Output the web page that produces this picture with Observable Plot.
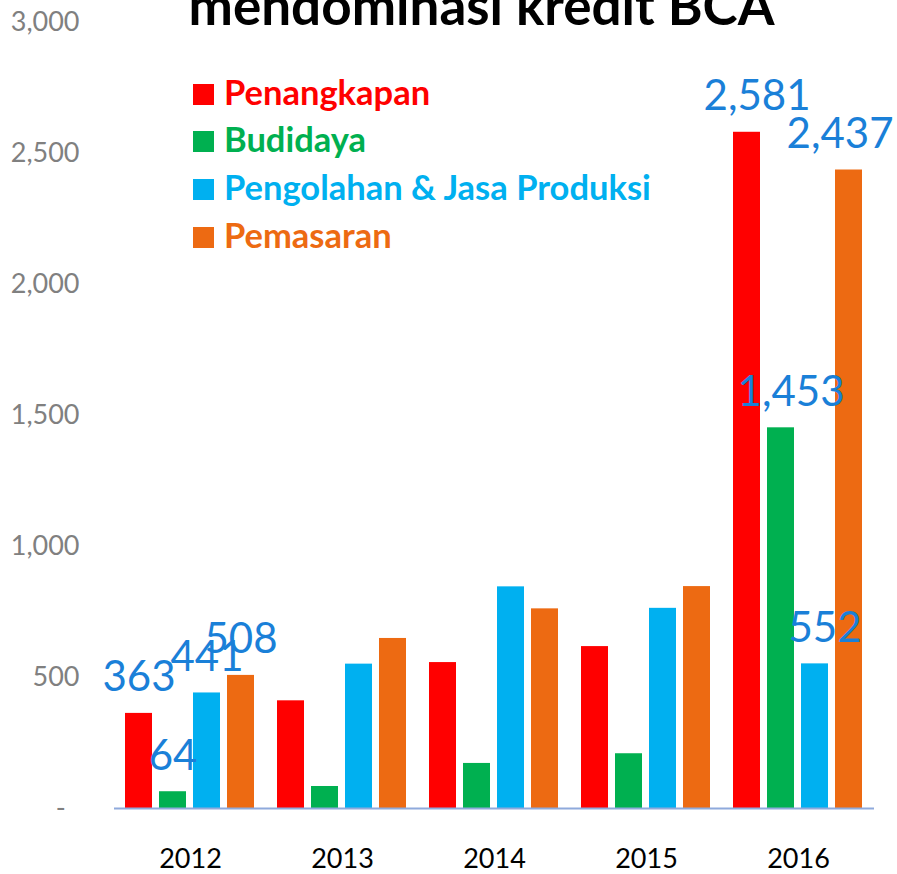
<!DOCTYPE html>
<html>
<head>
<meta charset="utf-8">
<script src="https://cdn.jsdelivr.net/npm/d3@7"></script>
<script src="https://cdn.jsdelivr.net/npm/@observablehq/plot@0.6"></script>
<style>
  html, body { margin: 0; padding: 0; background: #fff; overflow: hidden; }
  #wrap { position: relative; width: 897px; height: 874px; overflow: hidden; font-family: Lato, "Open Sans", sans-serif; }
  #title { position: absolute; left: 0; width: 897px; top: -22px; text-align: center; font-size: 53px; line-height: 53px; font-weight: 700; color: #000; white-space: nowrap; padding-left: 66px; box-sizing: border-box; }
  #legend { position: absolute; left: 193px; top: 0; }
  .row { position: absolute; left: 0; white-space: nowrap; font-size: 34.5px; font-weight: 700; line-height: 34.5px; }
  .sw { position: absolute; left: 0; width: 21px; height: 21px; }
  .lt { position: absolute; left: 31px; top: 0; }
  #chart { position: absolute; left: 0; top: 0; }
</style>
</head>
<body>
<div id="wrap">
  <div id="chart"></div>
  <div id="title">mendominasi kredit BCA</div>
  <div id="legend"></div>
</div>
<script>
const years = ["2012", "2013", "2014", "2015", "2016"];
const seriesNames = ["Penangkapan", "Budidaya", "Pengolahan & Jasa Produksi", "Pemasaran"];
const seriesColors = ["#FF0000", "#00B050", "#00B0F0", "#ED6A12"];
const penangkapan = [363, 411, 557, 618, 2581];
const budidaya = [64, 84, 172, 209, 1453];
const pengolahan = [441, 551, 846, 764, 552];
const pemasaran = [508, 649, 762, 847, 2437];
const labeledYears = ["2012", "2016"];
const yTicks = [0, 500, 1000, 1500, 2000, 2500, 3000];

const seriesValues = [penangkapan, budidaya, pengolahan, pemasaran];
const data = [];
years.forEach((yr, i) => {
  seriesNames.forEach((s, j) => {
    data.push({year: yr, series: s, value: seriesValues[j][i]});
  });
});

const fmt = d3.format(",");
const yFmt = d => d === 0 ? "-\u00a0\u00a0" : fmt(d);

const labelOpts = {
  fx: "year", x: "series", y: "value", text: d => fmt(d.value),
  lineAnchor: "bottom", dy: -22, fill: "#1A80D8", fontSize: 42
};
const lastYear = labeledYears[labeledYears.length - 1];
const lastSeries = seriesNames[seriesNames.length - 1];
const firstLabels = data.filter(d => d.year === labeledYears[0]);
const lastLabels = data.filter(d => d.year === lastYear && d.series !== lastSeries);
const edgeLabels = data.filter(d => d.year === lastYear && d.series === lastSeries);

const chart = Plot.plot({
  width: 897,
  height: 874,
  marginTop: 22,
  marginBottom: 66,
  marginLeft: 113,
  marginRight: 22,
  style: {fontFamily: "Lato, 'Open Sans', sans-serif", background: "transparent"},
  fx: {domain: years, paddingInner: 0, paddingOuter: 0, label: null},
  x: {domain: seriesNames, paddingInner: 0.2, paddingOuter: 0.3, axis: null},
  y: {domain: [0, 3000], label: null},
  color: {domain: seriesNames, range: seriesColors},
  marks: [
    Plot.axisY({ticks: yTicks, tickFormat: yFmt, tickSize: 0, tickPadding: 35, fill: "#808080", fontSize: 27, label: null}),
    Plot.axisFx({anchor: "bottom", tickSize: 0, tickPadding: 40, fontSize: 27, fill: "#000", label: null}),
    Plot.barY(data, {fx: "year", x: "series", y: "value", fill: "series"}),
    Plot.ruleY([0], {stroke: "#8FAADC", strokeWidth: 2}),
    Plot.text(firstLabels, {...labelOpts}),
    Plot.text(lastLabels, {...labelOpts, dx: 10}),
    Plot.text(edgeLabels, {...labelOpts, dx: -9})
  ]
});
document.getElementById("chart").appendChild(chart);

const legend = document.getElementById("legend");
seriesNames.forEach((s, i) => {
  const row = document.createElement("div");
  row.className = "row";
  row.style.top = (74.5 + i * 47.7) + "px";
  row.style.color = seriesColors[i];
  const sw = document.createElement("div");
  sw.className = "sw";
  sw.style.background = seriesColors[i];
  sw.style.top = "9px";
  const lt = document.createElement("span");
  lt.className = "lt";
  lt.textContent = s;
  row.appendChild(sw);
  row.appendChild(lt);
  legend.appendChild(row);
});
</script>
</body>
</html>
